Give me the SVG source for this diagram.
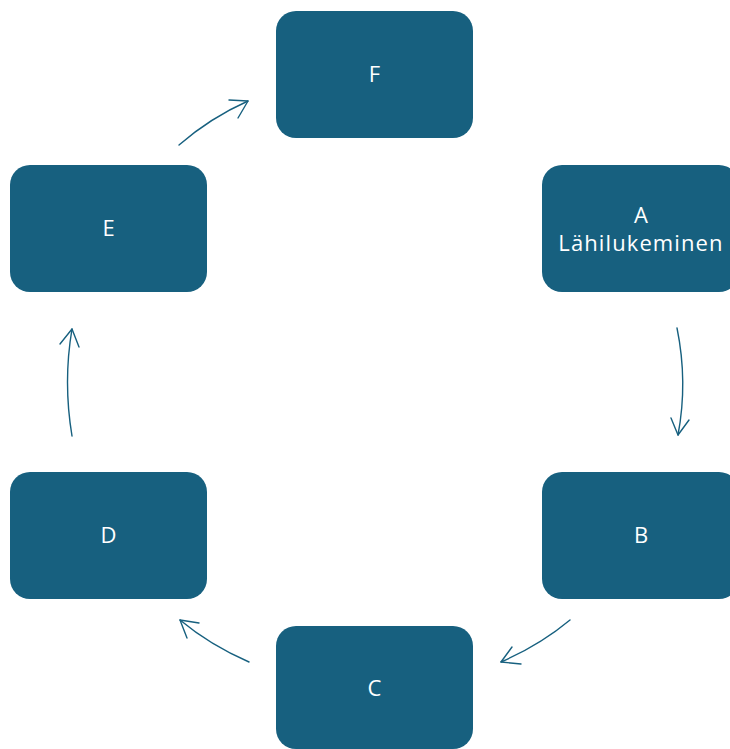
<svg xmlns="http://www.w3.org/2000/svg" width="730" height="749" viewBox="0 0 730 749">
<style>
.box{fill:#17607F;}
.lbl{fill:#FFFFFF;font-family:"Open Sans","Liberation Sans",Arial,sans-serif;font-size:22px;text-anchor:middle;}
.wide{letter-spacing:1.1px;}
.con{fill:none;stroke:#17607F;stroke-width:1.4;stroke-linecap:round;stroke-linejoin:round;}
</style>
<rect width="730" height="749" fill="#FFFFFF"/>
<g id="nodeF"><rect class="box" x="276" y="11" width="197" height="127" rx="20"/><text class="lbl" x="374.5" y="82">F</text></g>
<g id="nodeA"><rect class="box" x="542" y="165" width="197" height="127" rx="20"/><text class="lbl" x="641" y="223">A</text><text class="lbl wide" x="641" y="251">Lähilukeminen</text></g>
<g id="nodeB"><rect class="box" x="542" y="472" width="197" height="127" rx="20"/><text class="lbl" x="641" y="543">B</text></g>
<g id="nodeC"><rect class="box" x="276" y="626" width="197" height="123" rx="20"/><text class="lbl" x="374.5" y="696">C</text></g>
<g id="nodeD"><rect class="box" x="10" y="472" width="197" height="127" rx="20"/><text class="lbl" x="108.5" y="543">D</text></g>
<g id="nodeE"><rect class="box" x="10" y="165" width="197" height="127" rx="20"/><text class="lbl" x="108.5" y="236">E</text></g>
<g id="connectors">
<path class="con" d="M179,145 Q210,118 248,101"/><path class="con" d="M229,100 L248,101 L238,118"/>
<path class="con" d="M677,328 Q688,382 678,435"/><path class="con" d="M671,418 L678,435 L689,420"/>
<path class="con" d="M570,620 Q540,645 501,662"/><path class="con" d="M512,647 L501,662 L521,664"/>
<path class="con" d="M249,662 Q210,645 180,620"/><path class="con" d="M199,623 L180,620 L187,638"/>
<path class="con" d="M72,436 Q63,382 72,329"/><path class="con" d="M60,344 L72,329 L79,347"/>
</g>
</svg>
